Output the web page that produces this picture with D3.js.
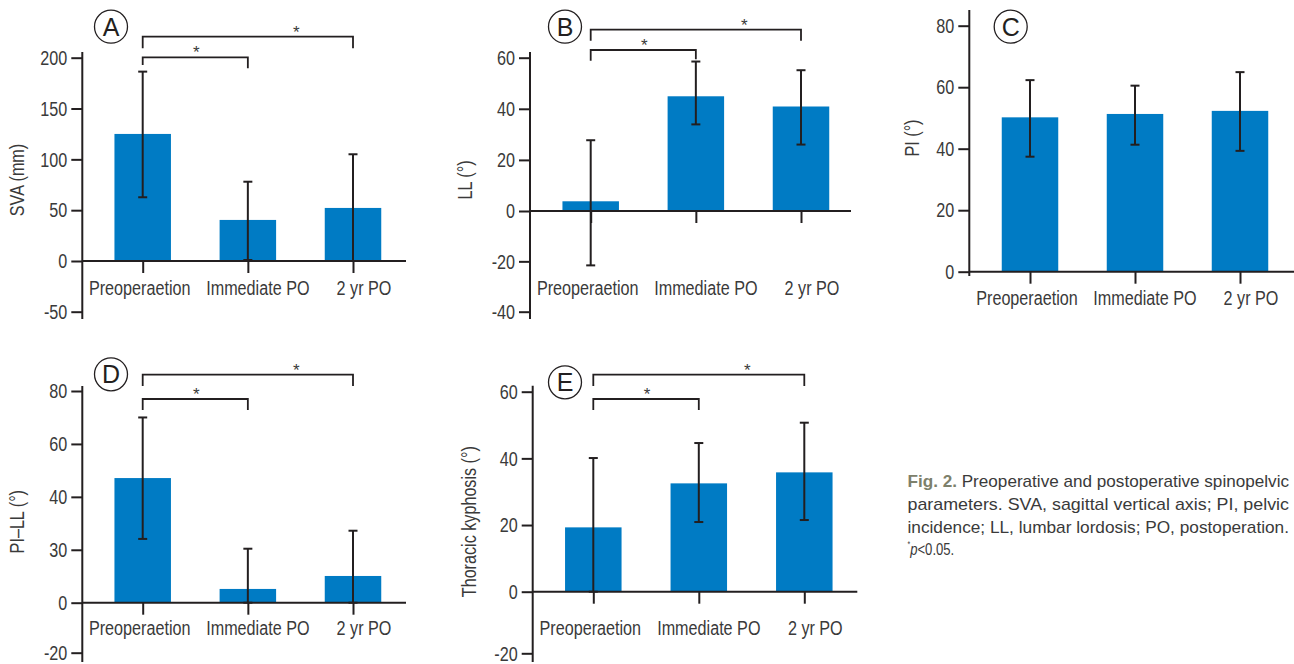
<!DOCTYPE html>
<html>
<head>
<meta charset="utf-8">
<script src="https://cdn.jsdelivr.net/npm/d3@7"></script>
<style>
  html, body { margin: 0; padding: 0; background: #fff; }
  svg { display: block; }
</style>
</head>
<body>
<svg id="chart" width="1294" height="664"></svg>
<script>
"use strict";

// ── data ──────────────────────────────────────────────────────────────────────
const categories = ["Preoperaetion", "Immediate PO", "2 yr PO"];

// (A) SVA (mm)
const svaMean = [125, 40.4, 52.2];
const svaHi   = [186.3, 78, 105];
const svaLo   = [62.7, 1, 0];
const svaTicks = [-50, 0, 50, 100, 150, 200];
const svaTickLabels = ["-50", "0", "50", "100", "150", "200"];

// (B) LL (°)
const llMean = [3.8, 44.9, 40.9];
const llHi   = [27.7, 58.5, 55.1];
const llLo   = [-21.6, 33.9, 26];
const llTicks = [-40, -20, 0, 20, 40, 60];
const llTickLabels = ["-40", "-20", "0", "20", "40", "60"];

// (C) PI (°)
const piMean = [50.2, 51.3, 52.3];
const piHi   = [62.3, 60.5, 64.9];
const piLo   = [37.4, 41.3, 39.3];
const piTicks = [0, 20, 40, 60, 80];
const piTickLabels = ["0", "20", "40", "60", "80"];

// (D) PI–LL (°)   (the figure prints "30" at the 20 gridline)
const pillMean = [47.1, 5.2, 10.1];
const pillHi   = [70, 20.4, 27.2];
const pillLo   = [24.1, 0, 0];
const pillTicks = [-20, 0, 20, 40, 60, 80];
const pillTickLabels = ["-20", "0", "30", "40", "60", "80"];

// (E) Thoracic kyphosis (°)
const tkMean = [19.3, 32.5, 35.8];
const tkHi   = [40.1, 44.6, 50.7];
const tkLo   = [0, 20.9, 21.5];
const tkTicks = [-20, 0, 20, 40, 60];
const tkTickLabels = ["-20", "0", "20", "40", "60"];

const captionLines = [
  ["Fig. 2.", " Preoperative and postoperative spinopelvic"],
  ["", "parameters. SVA, sagittal vertical axis; PI, pelvic"],
  ["", "incidence; LL, lumbar lordosis; PO, postoperation."],
];

// ── style ─────────────────────────────────────────────────────────────────────
const FONT    = '"Liberation Sans", Arial, sans-serif';
const NARROW  = 0.77;          // squeeze to mimic a condensed face
const FS      = 21;
const INK     = "#231f20";
const TEXT    = "#3a3a3a";
const BAR     = "#007bc4";
const BAR_W   = 56.5;
const CAP_W   = 9;
const LABEL_DX = [-3, 10, 11]; // category labels sit a little off their ticks

const svg = d3.select("#chart");
svg.append("rect").attr("width", 1294).attr("height", 664).attr("fill", "#fff");

// ── panels ────────────────────────────────────────────────────────────────────
// the source axes are not quite evenly spaced, so each y scale is polylinear
const panels = [
  { letter: "A", title: "SVA (mm)", mean: svaMean, hi: svaHi, lo: svaLo,
    ticks: svaTicks, tickLabels: svaTickLabels,
    domain: [-50, 0, 200], range: [311.7, 261, 57.7], axisX: 82.3, axisTop: 52, axisBottom: 319,
    xRange: [142.7, 353], xEnd: 406, labelY: 295, titleX: 17, titleY: 180,
    badge: [111, 26.7],
    brackets: [
      { to: 1, y: 57.3, dropL: 65, dropR: 68.3, star: 0.51 },
      { to: 2, y: 36.7, dropL: 48.3, dropR: 48.3, star: 0.73 },
    ] },
  { letter: "B", title: "LL (°)", mean: llMean, hi: llHi, lo: llLo,
    ticks: llTicks, tickLabels: llTickLabels,
    domain: [-40, 0, 60], range: [311.7, 211, 57.7], axisX: 530, axisTop: 52, axisBottom: 319,
    xRange: [590.7, 801], xEnd: 851, labelY: 295, titleX: 465, titleY: 180,
    badge: [565, 26.7],
    brackets: [
      { to: 1, y: 50, dropL: 60.7, dropR: 59.3, star: 0.51 },
      { to: 2, y: 29.7, dropL: 40.7, dropR: 40.7, star: 0.73 },
    ] },
  { letter: "C", title: "PI (°)", mean: piMean, hi: piHi, lo: piLo,
    ticks: piTicks, tickLabels: piTickLabels,
    domain: [0, 80], range: [271.7, 25.7], axisX: 969.3, axisTop: 10, axisBottom: 276,
    xRange: [1030, 1240], xEnd: 1294, labelY: 305, titleX: 911.7, titleY: 138,
    badge: [1010.7, 26.7],
    brackets: [] },
  { letter: "D", title: "PI–LL (°)", mean: pillMean, hi: pillHi, lo: pillLo,
    ticks: pillTicks, tickLabels: pillTickLabels,
    domain: [-20, 0, 80], range: [652.7, 602.7, 391], axisX: 82.3, axisTop: 386, axisBottom: 662,
    xRange: [142.7, 353], xEnd: 406, labelY: 635, titleX: 17, titleY: 521.7,
    badge: [111, 374.3],
    brackets: [
      { to: 1, y: 399, dropL: 410, dropR: 410, star: 0.51 },
      { to: 2, y: 374.7, dropL: 386, dropR: 386, star: 0.73 },
    ] },
  { letter: "E", title: "Thoracic kyphosis (°)", mean: tkMean, hi: tkHi, lo: tkLo,
    ticks: tkTicks, tickLabels: tkTickLabels,
    domain: [-20, 0, 60], range: [653.3, 591.7, 391.7], axisX: 532.7, axisTop: 385.7, axisBottom: 662,
    xRange: [593.3, 804.3], xEnd: 857.3, labelY: 635, titleX: 468.3, titleY: 521.7,
    badge: [565, 382.3],
    brackets: [
      { to: 1, y: 399, dropL: 410, dropR: 410, star: 0.51 },
      { to: 2, y: 374.7, dropL: 386, dropR: 386, star: 0.73 },
    ] },
];

function drawPanel(p) {
  const y = d3.scaleLinear().domain(p.domain).range(p.range);
  const x = d3.scalePoint().domain(categories).range(p.xRange);
  const g = svg.append("g");
  const y0 = y(0);

  // bars
  g.selectAll("rect.bar").data(p.mean).join("rect")
    .attr("class", "bar")
    .attr("x", (d, i) => x(categories[i]) - BAR_W / 2)
    .attr("y", d => y(Math.max(0, d)))
    .attr("width", BAR_W)
    .attr("height", d => Math.abs(y(d) - y0))
    .attr("fill", BAR);

  // y axis
  g.append("g")
    .attr("transform", `translate(${p.axisX},0)`)
    .call(d3.axisLeft(y).tickValues(p.ticks)
      .tickFormat(d => p.tickLabels[p.ticks.indexOf(d)])
      .tickSize(11).tickPadding(4).tickSizeOuter(0))
    .call(ax => {
      ax.select(".domain").remove();
      ax.selectAll(".tick line").attr("stroke", INK).attr("stroke-width", 2);
      ax.selectAll("text").attr("class", "narrow").attr("fill", TEXT)
        .attr("font-family", FONT).attr("font-size", FS);
    });
  g.append("line")
    .attr("x1", p.axisX).attr("x2", p.axisX)
    .attr("y1", p.axisTop).attr("y2", p.axisBottom)
    .attr("stroke", INK).attr("stroke-width", 2);

  // x axis at zero with category ticks below
  g.append("line")
    .attr("x1", p.axisX).attr("x2", p.xEnd)
    .attr("y1", y0).attr("y2", y0)
    .attr("stroke", INK).attr("stroke-width", 2);
  g.append("g")
    .attr("transform", `translate(0,${y0})`)
    .call(d3.axisBottom(x).tickSize(12).tickFormat(""))
    .call(ax => {
      ax.select(".domain").remove();
      ax.selectAll(".tick line").attr("stroke", INK).attr("stroke-width", 2);
    });

  g.selectAll("text.cat").data(categories).join("text")
    .attr("class", "cat narrow")
    .attr("x", (d, i) => x(d) + LABEL_DX[i]).attr("y", p.labelY)
    .attr("text-anchor", "middle")
    .attr("font-family", FONT).attr("font-size", FS).attr("fill", TEXT)
    .text(d => d);

  // error bars
  const eb = g.selectAll("g.err").data(p.mean.map((m, i) => ({ i, hi: p.hi[i], lo: p.lo[i] })))
    .join("g").attr("class", "err")
    .attr("stroke", INK).attr("stroke-width", 2);
  eb.append("line")
    .attr("x1", d => x(categories[d.i])).attr("x2", d => x(categories[d.i]))
    .attr("y1", d => y(d.hi)).attr("y2", d => y(d.lo));
  eb.append("line")
    .attr("x1", d => x(categories[d.i]) - CAP_W / 2).attr("x2", d => x(categories[d.i]) + CAP_W / 2)
    .attr("y1", d => y(d.hi)).attr("y2", d => y(d.hi));
  eb.append("line")
    .attr("x1", d => x(categories[d.i]) - CAP_W / 2).attr("x2", d => x(categories[d.i]) + CAP_W / 2)
    .attr("y1", d => y(d.lo)).attr("y2", d => y(d.lo));

  // y title
  g.append("text")
    .attr("class", "narrow")
    .attr("transform", `translate(${p.titleX},${p.titleY}) rotate(-90)`)
    .attr("text-anchor", "middle").attr("dy", "0.35em")
    .attr("font-family", FONT).attr("font-size", FS).attr("fill", TEXT)
    .text(p.title);

  // significance brackets
  p.brackets.forEach(b => {
    const xa = x(categories[0]), xb = x(categories[b.to]);
    g.append("path")
      .attr("d", `M${xa},${b.dropL}V${b.y}H${xb}V${b.dropR}`)
      .attr("fill", "none").attr("stroke", INK).attr("stroke-width", 1.8);
    g.append("text")
      .attr("x", xa + (xb - xa) * b.star).attr("y", b.y + 1)
      .attr("text-anchor", "middle")
      .attr("font-family", FONT).attr("font-size", 17).attr("fill", TEXT)
      .text("*");
  });

  // panel badge
  g.append("circle")
    .attr("cx", p.badge[0]).attr("cy", p.badge[1]).attr("r", 16.5)
    .attr("fill", "#fff").attr("stroke", INK).attr("stroke-width", 1.3);
  g.append("text")
    .attr("x", p.badge[0]).attr("y", p.badge[1]).attr("dy", "0.36em")
    .attr("text-anchor", "middle")
    .attr("font-family", FONT)
    .attr("font-size", 25).attr("fill", INK)
    .text(p.letter);
}

panels.forEach(drawPanel);

// ── caption (justified lines) ─────────────────────────────────────────────────
const CAP_X = 907.5, CAP_W_TOTAL = 381.5, CAP_Y = 487.3, CAP_LH = 22.6;
const cap = svg.append("g")
  .attr("font-family", FONT).attr("font-size", 17).attr("fill", TEXT);
captionLines.forEach((ln, i) => {
  const t = cap.append("text")
    .attr("x", CAP_X).attr("y", CAP_Y + i * CAP_LH)
    .attr("textLength", CAP_W_TOTAL).attr("lengthAdjust", "spacingAndGlyphs");
  if (ln[0]) t.append("tspan").attr("font-weight", "bold").attr("fill", "#7d806b").text(ln[0]);
  t.append("tspan").text(ln[1]);
});
const last = cap.append("text").attr("class", "narrow")
  .attr("x", CAP_X).attr("y", CAP_Y + 3 * CAP_LH);
last.append("tspan").attr("font-size", 9).attr("dy", -8).text("*");
last.append("tspan").attr("font-style", "italic").attr("dy", 8).text("p");
last.append("tspan").text("<0.05.");

// squeeze label text horizontally so it reads like a condensed face
svg.selectAll("text.narrow").each(function () {
  const tx = +this.getAttribute("x") || 0;
  const ty = +this.getAttribute("y") || 0;
  const base = this.getAttribute("transform") || "";
  this.setAttribute("x", 0);
  this.setAttribute("y", 0);
  this.setAttribute("transform", `${base} translate(${tx},${ty}) scale(${NARROW},1)`);
});
</script>
</body>
</html>
